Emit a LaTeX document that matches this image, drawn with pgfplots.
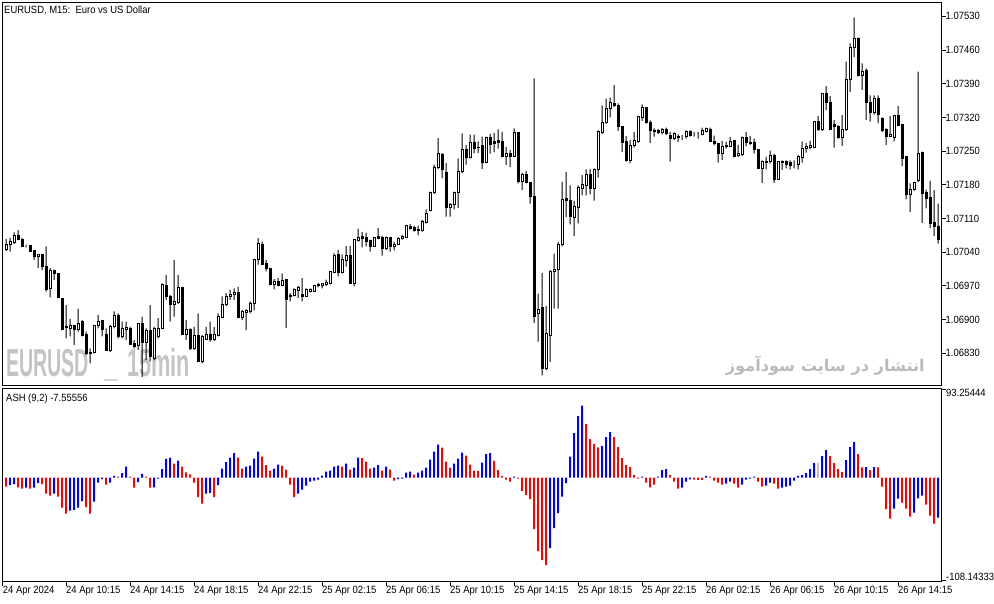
\documentclass[border=0pt]{standalone}
\usepackage{fontspec}
\setmainfont{Liberation Sans}[FakeStretch=0.9]
\newfontfamily\fafont[Script=Arabic]{DejaVu Sans}
\TeXXeTstate=1
\usepackage{graphicx}
\usepackage{pgfplots}
\usepackage{pgfplotstable}
\pgfplotsset{compat=1.18}
\definecolor{ashblue}{RGB}{0,0,255}
\definecolor{ashred}{RGB}{255,0,0}
\definecolor{ashgray}{RGB}{192,192,192}
\definecolor{wm}{RGB}{196,196,196}
\definecolor{wmtwo}{RGB}{186,186,186}

\pgfplotstableread{
i o h l c
0 1.07046 1.07067 1.07043 1.07057
1 1.07056 1.07069 1.07041 1.07062
2 1.07061 1.07081 1.07057 1.07074
3 1.07074 1.07086 1.07065 1.07067
4 1.07067 1.07069 1.07052 1.07052
5 1.07054 1.07056 1.07050 1.07054
6 1.07053 1.07055 1.07041 1.07041
7 1.07043 1.07045 1.07024 1.07031
8 1.07031 1.07036 1.07007 1.07036
9 1.07036 1.07036 1.07003 1.07010
10 1.07011 1.07052 1.06958 1.06962
11 1.06964 1.07007 1.06946 1.07002
12 1.07001 1.07004 1.06982 1.06996
13 1.06996 1.06996 1.06944 1.06946
14 1.06943 1.06943 1.06878 1.06880
15 1.06884 1.06930 1.06861 1.06885
16 1.06881 1.06901 1.06865 1.06887
17 1.06887 1.06889 1.06847 1.06880
18 1.06880 1.06923 1.06875 1.06892
19 1.06896 1.06899 1.06865 1.06868
20 1.06870 1.06875 1.06826 1.06830
21 1.06830 1.06840 1.06809 1.06831
22 1.06831 1.06887 1.06830 1.06887
23 1.06887 1.06910 1.06882 1.06896
24 1.06898 1.06899 1.06865 1.06880
25 1.06870 1.06882 1.06835 1.06835
26 1.06835 1.06889 1.06833 1.06885
27 1.06885 1.06917 1.06882 1.06908
28 1.06908 1.06913 1.06861 1.06865
29 1.06865 1.06896 1.06861 1.06882
30 1.06880 1.06896 1.06858 1.06883
31 1.06882 1.06885 1.06847 1.06849
32 1.06851 1.06858 1.06840 1.06844
33 1.06847 1.06892 1.06837 1.06891
34 1.06891 1.06906 1.06781 1.06852
35 1.06852 1.06882 1.06816 1.06877
36 1.06878 1.06930 1.06813 1.06823
37 1.06820 1.06885 1.06816 1.06882
38 1.06865 1.06903 1.06861 1.06882
39 1.06882 1.06975 1.06880 1.06972
40 1.06970 1.06993 1.06941 1.06948
41 1.06948 1.06951 1.06896 1.06932
42 1.06932 1.07024 1.06906 1.06937
43 1.06935 1.06993 1.06932 1.06967
44 1.06967 1.06968 1.06868 1.06869
45 1.06869 1.06899 1.06858 1.06880
46 1.06880 1.06882 1.06837 1.06840
47 1.06840 1.06885 1.06837 1.06866
48 1.06866 1.06913 1.06813 1.06813
49 1.06813 1.06868 1.06809 1.06865
50 1.06859 1.06885 1.06858 1.06870
51 1.06870 1.06896 1.06854 1.06858
52 1.06858 1.06885 1.06856 1.06870
53 1.06868 1.06913 1.06865 1.06906
54 1.06905 1.06948 1.06903 1.06932
55 1.06932 1.06955 1.06928 1.06948
56 1.06948 1.06962 1.06941 1.06953
57 1.06952 1.06965 1.06941 1.06957
58 1.06957 1.06968 1.06903 1.06905
59 1.06905 1.06920 1.06899 1.06916
60 1.06914 1.06921 1.06878 1.06918
61 1.06917 1.06938 1.06913 1.06933
62 1.06933 1.07026 1.06919 1.07024
63 1.07024 1.07069 1.07014 1.07059
64 1.07057 1.07062 1.07014 1.07015
65 1.07016 1.07024 1.07000 1.07007
66 1.07007 1.07007 1.06971 1.06972
67 1.06972 1.06984 1.06963 1.06980
68 1.06980 1.06986 1.06969 1.06971
69 1.06971 1.06996 1.06970 1.06981
70 1.06983 1.06983 1.06883 1.06941
71 1.06950 1.06955 1.06938 1.06947
72 1.06950 1.06965 1.06948 1.06962
73 1.06960 1.06970 1.06945 1.06966
74 1.06952 1.06986 1.06938 1.06949
75 1.06948 1.06965 1.06948 1.06962
76 1.06958 1.06965 1.06956 1.06963
77 1.06958 1.06970 1.06958 1.06970
78 1.06973 1.06976 1.06967 1.06970
79 1.06971 1.06976 1.06965 1.06974
80 1.06972 1.06983 1.06970 1.06977
81 1.06974 1.07000 1.06973 1.06999
82 1.06998 1.07038 1.06996 1.07033
83 1.07035 1.07045 1.06990 1.06998
84 1.06998 1.07035 1.06996 1.07024
85 1.07023 1.07053 1.07010 1.07033
86 1.07033 1.07053 1.06974 1.06975
87 1.06975 1.07067 1.06969 1.07066
88 1.07064 1.07089 1.07062 1.07071
89 1.07073 1.07082 1.07050 1.07068
90 1.07070 1.07080 1.07052 1.07062
91 1.07064 1.07066 1.07041 1.07052
92 1.07052 1.07071 1.07052 1.07071
93 1.07073 1.07090 1.07067 1.07068
94 1.07071 1.07074 1.07033 1.07048
95 1.07048 1.07073 1.07045 1.07070
96 1.07070 1.07071 1.07041 1.07052
97 1.07052 1.07062 1.07044 1.07057
98 1.07057 1.07071 1.07055 1.07069
99 1.07069 1.07076 1.07066 1.07073
100 1.07071 1.07097 1.07069 1.07096
101 1.07093 1.07099 1.07087 1.07089
102 1.07091 1.07095 1.07083 1.07085
103 1.07087 1.07095 1.07075 1.07086
104 1.07086 1.07107 1.07083 1.07103
105 1.07102 1.07129 1.07100 1.07121
106 1.07127 1.07166 1.07125 1.07163
107 1.07163 1.07222 1.07161 1.07215
108 1.07215 1.07277 1.07213 1.07244
109 1.07242 1.07246 1.07194 1.07211
110 1.07206 1.07225 1.07114 1.07133
111 1.07133 1.07142 1.07114 1.07140
112 1.07140 1.07166 1.07129 1.07165
113 1.07165 1.07235 1.07132 1.07208
114 1.07208 1.07287 1.07204 1.07254
115 1.07254 1.07263 1.07222 1.07237
116 1.07237 1.07284 1.07235 1.07267
117 1.07267 1.07284 1.07246 1.07256
118 1.07258 1.07270 1.07246 1.07257
119 1.07261 1.07280 1.07213 1.07226
120 1.07226 1.07280 1.07225 1.07279
121 1.07278 1.07286 1.07245 1.07264
122 1.07269 1.07288 1.07248 1.07266
123 1.07271 1.07295 1.07255 1.07267
124 1.07271 1.07290 1.07237 1.07238
125 1.07238 1.07259 1.07221 1.07245
126 1.07245 1.07252 1.07217 1.07238
127 1.07239 1.07297 1.07238 1.07288
128 1.07288 1.07288 1.07183 1.07186
129 1.07186 1.07205 1.07169 1.07202
130 1.07202 1.07209 1.07183 1.07184
131 1.07185 1.07185 1.07141 1.07156
132 1.07155 1.07401 1.06893 1.06907
133 1.06913 1.06954 1.06854 1.06921
134 1.06926 1.06997 1.06784 1.06798
135 1.06798 1.06928 1.06795 1.06871
136 1.06868 1.07003 1.06812 1.07000
137 1.06999 1.07037 1.06923 1.07005
138 1.07004 1.07061 1.06923 1.07057
139 1.07055 1.07186 1.07052 1.07149
140 1.07151 1.07207 1.07113 1.07147
141 1.07148 1.07179 1.07098 1.07115
142 1.07113 1.07147 1.07074 1.07134
143 1.07133 1.07179 1.07100 1.07174
144 1.07172 1.07200 1.07158 1.07181
145 1.07179 1.07212 1.07158 1.07202
146 1.07202 1.07213 1.07160 1.07172
147 1.07172 1.07214 1.07147 1.07212
148 1.07212 1.07293 1.07195 1.07290
149 1.07289 1.07345 1.07286 1.07309
150 1.07309 1.07359 1.07307 1.07338
151 1.07338 1.07361 1.07320 1.07351
152 1.07349 1.07387 1.07342 1.07345
153 1.07345 1.07349 1.07292 1.07302
154 1.07302 1.07302 1.07248 1.07267
155 1.07269 1.07281 1.07228 1.07231
156 1.07231 1.07273 1.07225 1.07262
157 1.07261 1.07290 1.07257 1.07272
158 1.07270 1.07323 1.07267 1.07321
159 1.07320 1.07347 1.07313 1.07340
160 1.07340 1.07342 1.07307 1.07309
161 1.07309 1.07314 1.07267 1.07292
162 1.07293 1.07297 1.07280 1.07290
163 1.07293 1.07296 1.07286 1.07289
164 1.07289 1.07298 1.07285 1.07295
165 1.07295 1.07299 1.07283 1.07286
166 1.07283 1.07290 1.07228 1.07276
167 1.07277 1.07289 1.07273 1.07286
168 1.07281 1.07285 1.07269 1.07278
169 1.07278 1.07283 1.07273 1.07278
170 1.07280 1.07293 1.07276 1.07291
171 1.07291 1.07293 1.07280 1.07283
172 1.07284 1.07290 1.07280 1.07284
173 1.07285 1.07290 1.07276 1.07285
174 1.07284 1.07299 1.07283 1.07292
175 1.07291 1.07299 1.07289 1.07296
176 1.07295 1.07299 1.07269 1.07270
177 1.07271 1.07282 1.07262 1.07266
178 1.07266 1.07267 1.07226 1.07245
179 1.07245 1.07271 1.07232 1.07260
180 1.07260 1.07269 1.07255 1.07261
181 1.07260 1.07279 1.07259 1.07271
182 1.07273 1.07273 1.07237 1.07238
183 1.07240 1.07263 1.07238 1.07244
184 1.07242 1.07280 1.07240 1.07279
185 1.07279 1.07290 1.07260 1.07267
186 1.07268 1.07281 1.07263 1.07265
187 1.07268 1.07276 1.07245 1.07254
188 1.07254 1.07254 1.07214 1.07214
189 1.07214 1.07231 1.07184 1.07229
190 1.07229 1.07238 1.07212 1.07226
191 1.07229 1.07251 1.07224 1.07240
192 1.07240 1.07244 1.07184 1.07191
193 1.07191 1.07229 1.07190 1.07229
194 1.07227 1.07231 1.07211 1.07229
195 1.07229 1.07231 1.07214 1.07223
196 1.07226 1.07231 1.07212 1.07221
197 1.07224 1.07231 1.07214 1.07224
198 1.07223 1.07242 1.07212 1.07238
199 1.07237 1.07270 1.07226 1.07256
200 1.07256 1.07267 1.07247 1.07259
201 1.07258 1.07272 1.07254 1.07261
202 1.07258 1.07312 1.07256 1.07311
203 1.07312 1.07323 1.07292 1.07294
204 1.07294 1.07370 1.07292 1.07369
205 1.07369 1.07385 1.07335 1.07351
206 1.07351 1.07364 1.07294 1.07295
207 1.07305 1.07315 1.07257 1.07301
208 1.07302 1.07304 1.07276 1.07278
209 1.07278 1.07325 1.07261 1.07294
210 1.07294 1.07436 1.07292 1.07399
211 1.07398 1.07474 1.07373 1.07465
212 1.07465 1.07528 1.07445 1.07484
213 1.07484 1.07486 1.07405 1.07407
214 1.07407 1.07432 1.07377 1.07416
215 1.07418 1.07422 1.07315 1.07351
216 1.07351 1.07366 1.07311 1.07330
217 1.07330 1.07366 1.07326 1.07360
218 1.07360 1.07366 1.07308 1.07326
219 1.07318 1.07320 1.07290 1.07292
220 1.07295 1.07297 1.07263 1.07280
221 1.07280 1.07323 1.07279 1.07285
222 1.07279 1.07325 1.07270 1.07323
223 1.07323 1.07344 1.07302 1.07304
224 1.07305 1.07305 1.07219 1.07235
225 1.07238 1.07240 1.07150 1.07159
226 1.07159 1.07183 1.07124 1.07170
227 1.07170 1.07186 1.07168 1.07184
228 1.07188 1.07415 1.07186 1.07245
229 1.07247 1.07249 1.07101 1.07162
230 1.07165 1.07170 1.07131 1.07152
231 1.07153 1.07188 1.07090 1.07100
232 1.07101 1.07169 1.07074 1.07093
233 1.07093 1.07141 1.07058 1.07067
}\candles

\begin{document}
\fontsize{10.5}{12}\selectfont
\begin{tikzpicture}[x=1pt,y=1pt]
\useasboundingbox (0pt,0pt) rectangle (994pt,603pt);
% watermarks (drawn first, behind the candles)
\node[anchor=base west, inner sep=0pt, text=wm] at (6pt,226pt) {\scalebox{0.56}[1]{\fontsize{39}{39}\selectfont\bfseries EURUSD}};
\node[anchor=base west, inner sep=0pt, text=wm] at (104pt,226pt) {\scalebox{0.7}[1]{\fontsize{39}{39}\selectfont\bfseries \_}};
\node[anchor=base west, inner sep=0pt, text=wm] at (127pt,226pt) {\scalebox{0.62}[1]{\fontsize{39}{39}\selectfont\bfseries 15min}};
\node[anchor=base east, inner sep=0pt, text=wmtwo] at (925pt,231.3pt) {\resizebox{199pt}{!}{\fafont\bfseries\beginR انتشار در سایت سودآموز\endR}};

% price panel
\begin{axis}[
  at={(2.5pt,217.5pt)}, anchor=south west, scale only axis,
  width=939pt, height=382.8pt,
  xmin=-0.875, xmax=233.875, ymin=63.1, ymax=858.3,
  axis line style={line width=1pt},
  xtick=\empty,
  ytick={130,200,270,340,410,480,550,620,690,760,830},
  yticklabels={1.06830,1.06900,1.06970,1.07040,1.07110,1.07180,1.07250,1.07320,1.07390,1.07460,1.07530},
  ytick pos=right, yticklabel pos=right,
  tick align=outside, major tick length=4pt,
  tick style={black, line width=0.8pt},
  yticklabel style={anchor=west, inner sep=0pt},
  scaled y ticks=false,
  ybar stacked,
]
\addplot[fill=none, draw=none, bar width=1pt] table[x=i, y expr={(\thisrow{l}-1.067)*100000}] {\candles};
\addplot[fill=black, draw=none, bar width=1pt] table[x=i, y expr={(min(\thisrow{o},\thisrow{c})-\thisrow{l})*100000}] {\candles};
\addplot[fill=white, draw=black, line width=1pt, bar width=2pt] table[x=i, y expr={max(\thisrow{c}-\thisrow{o},0)*100000}] {\candles};
\addplot[fill=black, draw=black, line width=1pt, bar width=2pt] table[x=i, y expr={max(\thisrow{o}-\thisrow{c},0)*100000}] {\candles};
\addplot[fill=black, draw=none, bar width=1pt] table[x=i, y expr={(\thisrow{h}-max(\thisrow{o},\thisrow{c}))*100000}] {\candles};
\end{axis}

% ASH panel
\begin{axis}[
  at={(2.5pt,21.3pt)}, anchor=south west, scale only axis,
  width=939pt, height=193pt,
  xmin=-0.875, xmax=233.875, ymin=-109.5, ymax=93.7,
  axis line style={line width=1pt},
  ybar, bar width=2pt,
  xtick={-0.825,15,31,47,63,79,95,111,127,143,159,175,191,207,223},
  xticklabels={24 Apr 2024,24 Apr 10:15,24 Apr 14:15,24 Apr 18:15,24 Apr 22:15,25 Apr 02:15,25 Apr 06:15,25 Apr 10:15,25 Apr 14:15,25 Apr 18:15,25 Apr 22:15,26 Apr 02:15,26 Apr 06:15,26 Apr 10:15,26 Apr 14:15},
  xtick pos=bottom,
  xticklabel style={anchor=north west, inner sep=0pt},
  ytick={-108.14333}, yticklabels={-108.14333},
  ytick pos=right, yticklabel pos=right,
  yticklabel style={anchor=south west, inner sep=0pt},
  extra y ticks={93.25444}, extra y tick labels={93.25444},
  extra y tick style={yticklabel style={anchor=north west, inner sep=0pt}},
  tick align=outside, major tick length=4.5pt,
  tick style={black, line width=0.8pt},
  scaled y ticks=false,
]
\addplot[fill=ashblue, draw=none, bar shift=0pt] coordinates {(1,-7.7) (2,-6.7) (5,-10.5) (7,-10.5) (8,-5.6) (12,-16.8) (16,-34.7) (17,-34.0) (18,-31.6) (19,-24.6) (22,-25.3) (23,-5.3) (24,-1.4) (26,-5.3) (27,1.8) (29,4.9) (30,11.6) (33,-4.6) (34,3.9) (37,-10.2) (38,-1.1) (39,9.1) (40,19.7) (41,21.1) (43,17.9) (50,-16.8) (51,-16.1) (53,-7.7) (54,9.5) (55,16.5) (56,21.1) (57,26.0) (60,11.6) (61,12.6) (62,20.0) (63,27.4) (67,9.5) (68,13.7) (73,-16.8) (74,-12.6) (75,-8.4) (76,-4.2) (77,-3.2) (78,-2.1) (79,2.1) (80,6.3) (81,7.4) (82,11.6) (83,12.6) (85,14.7) (87,10.5) (88,21.1) (92,10.5) (93,13.3) (95,11.6) (98,-1.4) (99,-1.1) (100,5.3) (101,6.3) (103,5.3) (104,7.4) (105,10.5) (106,19.0) (107,27.4) (108,34.7) (112,14.7) (113,20.0) (114,26.3) (119,15.8) (120,24.9) (121,26.0) (127,1.0) (136,-74.1) (137,-53.0) (138,-37.2) (139,-20.0) (140,-5.6) (141,22.1) (142,47.0) (143,64.9) (144,75.8) (149,33.3) (150,42.8) (151,48.1) (159,1.1) (163,1.1) (164,8.1) (165,9.1) (169,-10.5) (170,-4.2) (171,-1.8) (175,1.8) (180,-6.3) (181,-4.2) (184,-7.4) (185,-2.1) (186,-1.1) (187,1.1) (190,-8.4) (191,-5.3) (194,-10.5) (195,-9.5) (196,-8.4) (197,-3.2) (198,1.8) (199,2.8) (200,4.9) (201,9.1) (202,15.4) (204,22.8) (205,29.1) (210,18.6) (211,32.3) (212,37.6) (215,11.2) (217,11.2) (222,-32.6) (223,-22.1) (227,-36.9) (228,-21.8) (229,-19.0) (233,-42.1)};
\addplot[fill=ashred, draw=none, bar shift=0pt] coordinates {(0,-9.5) (3,-10.2) (4,-11.6) (6,-11.6) (9,-6.7) (10,-16.8) (11,-19.0) (13,-20.0) (14,-31.6) (15,-37.9) (20,-30.9) (21,-37.9) (25,-7.4) (28,1.1) (31,1.1) (32,-10.5) (35,1.1) (36,-10.5) (42,14.7) (44,11.6) (45,5.6) (46,3.5) (47,-5.3) (48,-20.4) (49,-27.4) (52,-20.4) (58,21.1) (59,9.5) (64,22.1) (65,13.3) (66,7.4) (69,12.6) (70,8.4) (71,-7.4) (72,-20.4) (84,11.6) (86,8.4) (89,20.7) (90,16.8) (91,9.5) (94,7.4) (96,8.4) (97,-3.2) (102,3.2) (109,31.6) (110,16.8) (111,10.5) (115,23.2) (116,13.7) (117,7.4) (118,7.2) (122,17.6) (123,8.1) (124,1.8) (125,-2.1) (126,-4.2) (128,-1.1) (129,-14.0) (130,-18.3) (131,-22.5) (132,-54.1) (133,-77.2) (134,-86.7) (135,-92.0) (145,56.5) (146,40.7) (147,35.5) (148,31.9) (152,42.8) (153,32.3) (154,20.7) (155,13.3) (156,11.2) (157,2.8) (158,-1.1) (160,-5.3) (161,-10.2) (162,-7.4) (166,2.8) (167,-4.2) (168,-11.6) (172,-2.1) (173,-2.2) (174,-2.3) (176,1.1) (177,-3.2) (178,-5.3) (179,-7.4) (182,-6.3) (183,-10.5) (188,-4.2) (189,-9.5) (192,-6.3) (193,-11.6) (206,22.8) (207,15.4) (208,9.1) (209,6.0) (213,24.9) (214,10.9) (216,8.1) (218,10.9) (219,-9.5) (220,-33.0) (221,-43.2) (224,-26.3) (225,-32.6) (226,-41.1) (230,-28.4) (231,-40.0) (232,-48.4)};
\addplot[fill=ashgray, draw=none, bar shift=0pt] coordinates {(203,15.4)};
\end{axis}

% panel captions
\node[anchor=base west, inner sep=0pt] at (4pt,589.3pt) {EURUSD, M15:\ \ Euro vs US Dollar};
\node[anchor=base west, inner sep=0pt] at (6pt,201.3pt) {ASH (9,2) -7.55556};
\end{tikzpicture}
\end{document}
